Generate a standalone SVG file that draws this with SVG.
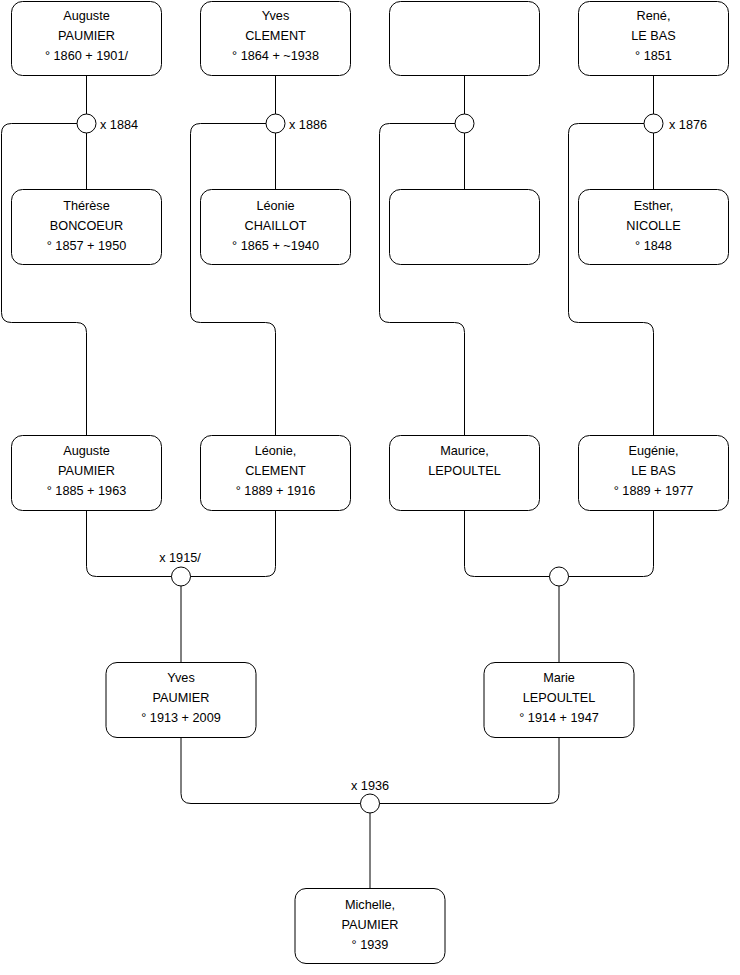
<svg xmlns="http://www.w3.org/2000/svg" width="740" height="975" viewBox="0 0 740 975">
<style>
.box{fill:#fff;stroke:#000;stroke-width:1}
.dot{fill:#fff;stroke:#000;stroke-width:1}
.ln{fill:none;stroke:#000;stroke-width:1}
text{font-family:"Liberation Sans",Arial,Helvetica,sans-serif;font-size:12.7px;fill:#000}
.c{text-anchor:middle}
</style>
<g id="connectors">
<path class="ln" d="M86.5 75.5V189.5"/>
<path class="ln" d="M275.5 75.5V189.5"/>
<path class="ln" d="M464.5 75.5V189.5"/>
<path class="ln" d="M653.5 75.5V189.5"/>
<path class="ln" d="M86.5 123.5H11.5Q1.5 123.5 1.5 133.5V312.5Q1.5 322.5 11.5 322.5H76.5Q86.5 322.5 86.5 332.5V435.5"/>
<path class="ln" d="M275.5 123.5H200.5Q190.5 123.5 190.5 133.5V312.5Q190.5 322.5 200.5 322.5H265.5Q275.5 322.5 275.5 332.5V435.5"/>
<path class="ln" d="M464.5 123.5H389.5Q379.5 123.5 379.5 133.5V312.5Q379.5 322.5 389.5 322.5H454.5Q464.5 322.5 464.5 332.5V435.5"/>
<path class="ln" d="M653.5 123.5H578.5Q568.5 123.5 568.5 133.5V312.5Q568.5 322.5 578.5 322.5H643.5Q653.5 322.5 653.5 332.5V435.5"/>
<path class="ln" d="M86.5 510.5V566.5Q86.5 576.5 96.5 576.5H265.5Q275.5 576.5 275.5 566.5V510.5"/>
<path class="ln" d="M464.5 510.5V566.5Q464.5 576.5 474.5 576.5H643.5Q653.5 576.5 653.5 566.5V510.5"/>
<path class="ln" d="M181 576.5V662.5"/>
<path class="ln" d="M559 576.5V662.5"/>
<path class="ln" d="M181 737.5V793.5Q181 803.5 191 803.5H549Q559 803.5 559 793.5V737.5"/>
<path class="ln" d="M370 803.5V888.5"/>
</g>
<g id="m1884"><circle class="dot" cx="86.5" cy="123.5" r="9.5"/><text x="100" y="128.5">x 1884</text></g>
<g id="m1886"><circle class="dot" cx="275.5" cy="123.5" r="9.5"/><text x="289" y="128.5">x 1886</text></g>
<g id="m3"><circle class="dot" cx="464.5" cy="123.5" r="9.5"/></g>
<g id="m1876"><circle class="dot" cx="653.5" cy="123.5" r="9.5"/><text x="669" y="128.5">x 1876</text></g>
<g id="m1915"><circle class="dot" cx="181" cy="576.5" r="9.5"/><text class="c" x="180" y="562">x 1915/</text></g>
<g id="m5"><circle class="dot" cx="559" cy="576.5" r="9.5"/></g>
<g id="m1936"><circle class="dot" cx="370" cy="803.5" r="9.5"/><text class="c" x="370" y="790">x 1936</text></g>

<g id="auguste1"><rect class="box" x="11.5" y="1.5" width="150" height="74" rx="11"/><text class="c" x="86.5" y="20">Auguste</text><text class="c" x="86.5" y="40">PAUMIER</text><text class="c" x="86.5" y="60">° 1860 + 1901/</text></g>
<g id="yves1"><rect class="box" x="200.5" y="1.5" width="150" height="74" rx="11"/><text class="c" x="275.5" y="20">Yves</text><text class="c" x="275.5" y="40">CLEMENT</text><text class="c" x="275.5" y="60">° 1864 + ~1938</text></g>
<g id="empty1"><rect class="box" x="389.5" y="1.5" width="150" height="74" rx="11"/></g>
<g id="rene"><rect class="box" x="578.5" y="1.5" width="150" height="74" rx="11"/><text class="c" x="653.5" y="20">René,</text><text class="c" x="653.5" y="40">LE BAS</text><text class="c" x="653.5" y="60">° 1851</text></g>

<g id="therese"><rect class="box" x="11.5" y="189.5" width="150" height="75" rx="11"/><text class="c" x="86.5" y="210">Thérèse</text><text class="c" x="86.5" y="230">BONCOEUR</text><text class="c" x="86.5" y="250">° 1857 + 1950</text></g>
<g id="leonie1"><rect class="box" x="200.5" y="189.5" width="150" height="75" rx="11"/><text class="c" x="275.5" y="210">Léonie</text><text class="c" x="275.5" y="230">CHAILLOT</text><text class="c" x="275.5" y="250">° 1865 + ~1940</text></g>
<g id="empty2"><rect class="box" x="389.5" y="189.5" width="150" height="75" rx="11"/></g>
<g id="esther"><rect class="box" x="578.5" y="189.5" width="150" height="75" rx="11"/><text class="c" x="653.5" y="210">Esther,</text><text class="c" x="653.5" y="230">NICOLLE</text><text class="c" x="653.5" y="250">° 1848</text></g>

<g id="auguste2"><rect class="box" x="11.5" y="435.5" width="150" height="75" rx="11"/><text class="c" x="86.5" y="455">Auguste</text><text class="c" x="86.5" y="475">PAUMIER</text><text class="c" x="86.5" y="495">° 1885 + 1963</text></g>
<g id="leonie2"><rect class="box" x="200.5" y="435.5" width="150" height="75" rx="11"/><text class="c" x="275.5" y="455">Léonie,</text><text class="c" x="275.5" y="475">CLEMENT</text><text class="c" x="275.5" y="495">° 1889 + 1916</text></g>
<g id="maurice"><rect class="box" x="389.5" y="435.5" width="150" height="75" rx="11"/><text class="c" x="464.5" y="455">Maurice,</text><text class="c" x="464.5" y="475">LEPOULTEL</text></g>
<g id="eugenie"><rect class="box" x="578.5" y="435.5" width="150" height="75" rx="11"/><text class="c" x="653.5" y="455">Eugénie,</text><text class="c" x="653.5" y="475">LE BAS</text><text class="c" x="653.5" y="495">° 1889 + 1977</text></g>

<g id="yves2"><rect class="box" x="106" y="662.5" width="150" height="75" rx="11"/><text class="c" x="181" y="682">Yves</text><text class="c" x="181" y="702">PAUMIER</text><text class="c" x="181" y="722">° 1913 + 2009</text></g>
<g id="marie"><rect class="box" x="484" y="662.5" width="150" height="75" rx="11"/><text class="c" x="559" y="682">Marie</text><text class="c" x="559" y="702">LEPOULTEL</text><text class="c" x="559" y="722">° 1914 + 1947</text></g>

<g id="michelle"><rect class="box" x="295" y="888.5" width="150" height="75" rx="11"/><text class="c" x="370" y="909">Michelle,</text><text class="c" x="370" y="929">PAUMIER</text><text class="c" x="370" y="949">° 1939</text></g>
</svg>
